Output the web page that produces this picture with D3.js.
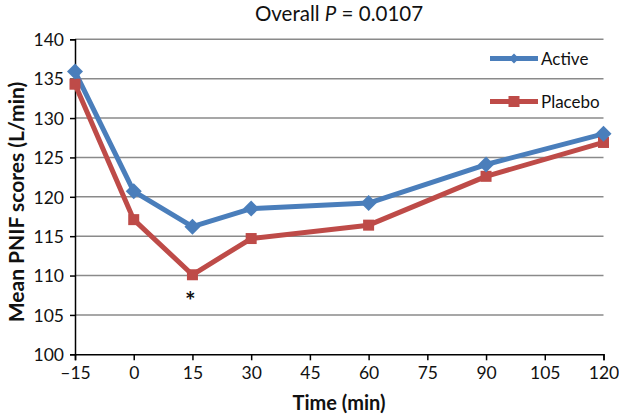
<!DOCTYPE html>
<html><head><meta charset="utf-8">
<script src="https://cdn.jsdelivr.net/npm/d3@7"></script>
<style>body{margin:0;background:#fff}svg{display:block}text{font-family:Lato,"Open Sans",sans-serif}</style>
</head><body>
<script>
const times = [-15, 0, 15, 30, 60, 90, 120];
const active = [135.9, 120.7, 116.2, 118.5, 119.2, 124.1, 128.0];
const placebo = [134.3, 117.1, 110.1, 114.7, 116.4, 122.6, 126.9];
const xTicks = [-15, 0, 15, 30, 45, 60, 75, 90, 105, 120];
const yTicks = [100, 105, 110, 115, 120, 125, 130, 135, 140];
const seriesNames = ["Active", "Placebo"];

const W = 619, H = 417;
const svg = d3.select("body").append("svg").attr("width", W).attr("height", H);
const x = d3.scaleLinear().domain([-15, 120]).range([75, 603.5]);
const y = d3.scaleLinear().domain([100, 140]).range([354.3, 39.3]);
const blue = "#4a7ebb", red = "#be4b48";

// gridlines
svg.append("g").selectAll("line").data(yTicks.filter(d => d > 100)).join("line")
  .attr("x1", x(-15)).attr("x2", x(120)).attr("y1", d => y(d)).attr("y2", d => y(d))
  .attr("stroke", "#8a8a8a").attr("stroke-width", 1.5);

// axes
const yAxis = svg.append("g").attr("transform", `translate(${x(-15)},0)`)
  .call(d3.axisLeft(y).tickValues(yTicks).tickSize(5).tickPadding(6).tickFormat(d3.format("d")));
const xAxis = svg.append("g").attr("transform", `translate(0,${y(100)})`)
  .call(d3.axisBottom(x).tickValues(xTicks).tickSize(6).tickPadding(6).tickFormat(d => d < 0 ? "\u2013" + Math.abs(d) : d));
[yAxis, xAxis].forEach(a => {
  a.select(".domain").attr("stroke", "#000").attr("stroke-width", 1.5);
  a.selectAll(".tick line").attr("stroke", "#000").attr("stroke-width", 1.5);
  a.selectAll(".tick text").attr("font-size", 17.5).attr("fill", "#111").style("font-family", "Lato,sans-serif");
});
yAxis.selectAll(".tick text").attr("dy", "0.36em");
xAxis.selectAll(".tick text").attr("dy", "0.72em");

// lines
const line = d3.line().x((d, i) => x(times[i])).y(d => y(d));
svg.append("path").datum(placebo).attr("d", line).attr("fill", "none").attr("stroke", red).attr("stroke-width", 5).attr("stroke-linejoin", "round");
svg.append("path").datum(active).attr("d", line).attr("fill", "none").attr("stroke", blue).attr("stroke-width", 5).attr("stroke-linejoin", "round");

// markers
const sq = 11, dm = 8;
svg.append("g").selectAll("rect").data(placebo).join("rect")
  .attr("x", (d, i) => x(times[i]) - sq / 2).attr("y", d => y(d) - sq / 2)
  .attr("width", sq).attr("height", sq).attr("fill", red);
svg.append("g").selectAll("path").data(active).join("path")
  .attr("d", (d, i) => { const cx = x(times[i]), cy = y(d); return `M${cx},${cy - dm}L${cx + dm},${cy}L${cx},${cy + dm}L${cx - dm},${cy}Z`; })
  .attr("fill", blue);

// asterisk
svg.append("text").attr("x", x(15) - 2).attr("y", y(110) + 34).attr("text-anchor", "middle")
  .attr("font-size", 25).attr("font-weight", "bold").attr("fill", "#111").text("*");

// legend
const leg = [{name: seriesNames[0], c: blue, t: "d", yy: 58.5}, {name: seriesNames[1], c: red, t: "s", yy: 101.5}];
leg.forEach(l => {
  svg.append("line").attr("x1", 490).attr("x2", 538).attr("y1", l.yy).attr("y2", l.yy).attr("stroke", l.c).attr("stroke-width", 5);
  if (l.t === "d") svg.append("path").attr("d", `M514,${l.yy - 5}L519,${l.yy}L514,${l.yy + 5}L509,${l.yy}Z`).attr("fill", l.c);
  else svg.append("rect").attr("x", 508.5).attr("y", l.yy - 5.5).attr("width", 11).attr("height", 11).attr("fill", l.c);
  svg.append("text").attr("x", 541).attr("y", l.yy).attr("dy", "0.36em").attr("font-size", 17).attr("fill", "#111").text(l.name);
});

// title
const title = svg.append("text").attr("x", 339).attr("y", 21).attr("text-anchor", "middle").attr("font-size", 20.5).attr("fill", "#111");
title.append("tspan").text("Overall ");
title.append("tspan").attr("font-style", "italic").text("P");
title.append("tspan").text(" = 0.0107");

// axis titles
svg.append("text").attr("x", 339).attr("y", 410).attr("text-anchor", "middle").attr("font-size", 20).attr("font-weight", "bold").attr("fill", "#111").text("Time (min)");
svg.append("text").attr("transform", "translate(24,202) rotate(-90)").attr("text-anchor", "middle").attr("font-size", 21).attr("font-weight", "bold").attr("fill", "#111").text("Mean PNIF scores (L/min)");
</script>
</body></html>
